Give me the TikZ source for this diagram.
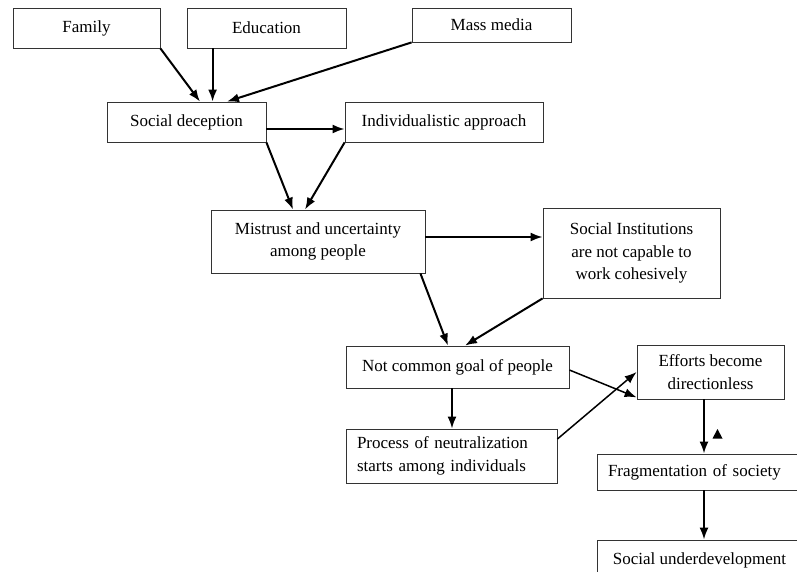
\documentclass[tikz,border=0pt]{standalone}
\usepackage{fontspec}
\setmainfont{Liberation Serif}
\usetikzlibrary{arrows.meta}
\begin{document}
\begin{tikzpicture}[x=1pt,y=-1pt,
  box/.style={draw=black!80, line width=0.8pt, inner sep=0pt, align=center,
    font=\fontsize{17}{22.5}\selectfont},
  arr/.style={draw=black, line width=2pt, -{Latex[length=12pt,width=9pt]}},
  thin arr/.style={arr, line width=1.5pt}]
\clip (0,0) rectangle (797,572);
\fill[white] (0,0) rectangle (797,572);
\node[box, minimum width=147pt, minimum height=40pt] (fam) at (86.5,28) {Family};
\node[box, minimum width=159pt, minimum height=40pt] (edu) at (266.5,28) {Education};
\node[box, minimum width=159pt, minimum height=34pt] (mass) at (491.5,25) {Mass media};
\node[box, minimum width=159pt, minimum height=40pt] (sd) at (186.5,122) {Social deception};
\node[box, minimum width=198pt, minimum height=40pt] (ind) at (444,122) {Individualistic approach};
\node[box, minimum width=214pt, minimum height=63pt] (mis) at (318,241.5) {Mistrust and uncertainty\\among people};
\node[box, minimum width=177pt, minimum height=90pt] (si) at (631.5,253) {Social Institutions\\are not capable to\\work cohesively};
\node[box, minimum width=223pt, minimum height=42pt] (nc) at (457.5,367) {Not common goal of people};
\node[box, minimum width=147pt, minimum height=54pt] (eff) at (710.5,372) {Efforts become\\directionless};
\node[box, minimum width=211pt, minimum height=54pt, align=left, text width=189pt] (proc) at (451.5,456) {Process of neutralization\\starts among individuals};
\node[box, minimum width=205pt, minimum height=36pt, align=left, text width=183pt] (frag) at (699.5,472) {Fragmentation of society};
\node[box, minimum width=205pt, minimum height=40pt] (su) at (699.5,560) {Social underdevelopment};

\draw[arr] (fam.south east) -- ([xshift=13.5pt]sd.north);
\draw[arr] ([xshift=26pt]edu.south west) -- ([xshift=26pt]edu.south west |- sd.north);
\draw[arr] (mass.south west) -- ([xshift=40.5pt]sd.north);
\draw[arr] ([yshift=-7pt]sd.east) -- ([yshift=-7pt]sd.east -| ind.west);
\draw[arr] (sd.south east) -- ([xshift=-25pt]mis.north);
\draw[arr] (ind.south west) -- ([xshift=-13pt]mis.north);
\draw[arr] ([yshift=4.5pt]mis.east) -- ([yshift=4.5pt]mis.east -| si.west);
\draw[arr] ([xshift=-5pt]mis.south east) -- ([xshift=-9.5pt]nc.north);
\draw[arr] (si.south west) -- ([xshift=7.5pt]nc.north);
\draw[thin arr] ([yshift=-3pt]nc.east) -- ([yshift=2pt]eff.south west);
\draw[arr] ([xshift=-5.5pt]nc.south) -- ([xshift=-5.5pt]nc.south |- proc.north);
\draw[thin arr] ([yshift=17pt]proc.east) -- (eff.west);
\draw[arr] ([xshift=-6.5pt]eff.south) -- ([xshift=-6.5pt]eff.south |- frag.north);
\draw[arr] ([xshift=4.5pt]frag.south) -- ([xshift=4.5pt]frag.south |- su.north);
\fill (712.5,438.5) -- (722.5,438.5) -- (717.5,429) -- cycle;
\end{tikzpicture}
\end{document}
